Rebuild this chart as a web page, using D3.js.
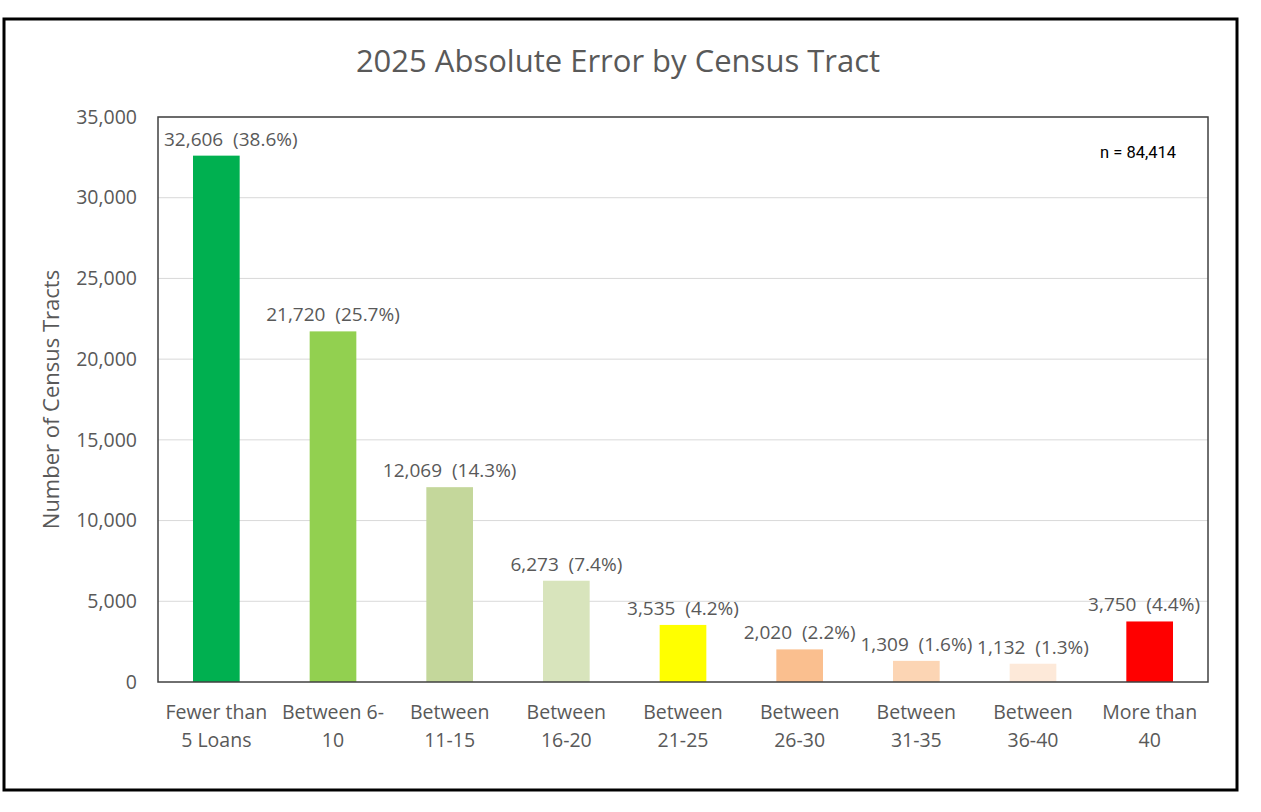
<!DOCTYPE html>
<html>
<head>
<meta charset="utf-8">
<script src="https://cdn.jsdelivr.net/npm/d3@7"></script>
<style>
  body { margin: 0; background: #fff; }
  svg { display: block; }
  text { font-family: "Open Sans", Lato, sans-serif; }
</style>
</head>
<body>
<svg id="chart" width="1261" height="812"></svg>
<script>
// chart data
const categories = [
  ['Fewer than', '5 Loans'],
  ['Between 6-', '10'],
  ['Between', '11-15'],
  ['Between', '16-20'],
  ['Between', '21-25'],
  ['Between', '26-30'],
  ['Between', '31-35'],
  ['Between', '36-40'],
  ['More than', '40']
];
const counts = [32606, 21720, 12069, 6273, 3535, 2020, 1309, 1132, 3750];
const percents = ['38.6%', '25.7%', '14.3%', '7.4%', '4.2%', '2.2%', '1.6%', '1.3%', '4.4%'];
const barColors = ['#00b050', '#92d050', '#c4d79b', '#d8e4bc', '#ffff00', '#fabf8f', '#fcd5b4', '#fde9d9', '#ff0000'];
const yTicks = [0, 5000, 10000, 15000, 20000, 25000, 30000, 35000];
const total = 84414;

const svg = d3.select('#chart');
const textColor = '#595959';

// outer frame
svg.append('rect')
  .attr('x', 4).attr('y', 19)
  .attr('width', 1233).attr('height', 771)
  .attr('fill', '#fff')
  .attr('stroke', '#000')
  .attr('stroke-width', 3);

const margin = { left: 158, top: 117, right: 1208, bottom: 682 };

const x = d3.scaleBand()
  .domain(d3.range(categories.length))
  .range([margin.left, margin.right])
  .paddingInner(0.6)
  .paddingOuter(0.3);

const y = d3.scaleLinear()
  .domain([0, 35000])
  .range([margin.bottom, margin.top]);

// gridlines
svg.append('g')
  .selectAll('line')
  .data(yTicks.filter(d => d > 0))
  .join('line')
  .attr('x1', margin.left).attr('x2', margin.right)
  .attr('y1', d => y(d)).attr('y2', d => y(d))
  .attr('stroke', '#d9d9d9')
  .attr('stroke-width', 1);

// y axis tick labels
const yAxis = d3.axisLeft(y)
  .tickValues(yTicks)
  .tickFormat(d3.format(','))
  .tickSize(0)
  .tickPadding(21);

svg.append('g')
  .attr('transform', `translate(${margin.left},0)`)
  .call(yAxis)
  .call(g => g.select('.domain').remove())
  .selectAll('text')
  .attr('fill', textColor)
  .style('font-size', '19.5px')
  .style('font-family', '"Open Sans", Lato, sans-serif');

// bars
svg.append('g')
  .selectAll('rect')
  .data(counts)
  .join('rect')
  .attr('x', (d, i) => x(i))
  .attr('y', d => y(d))
  .attr('width', x.bandwidth())
  .attr('height', d => y(0) - y(d))
  .attr('fill', (d, i) => barColors[i]);

// value labels, kept inside the plot area like Excel does
svg.append('g')
  .selectAll('text')
  .data(counts)
  .join('text')
  .attr('x', (d, i) => x(i) + x.bandwidth() / 2)
  .attr('y', d => y(d) - 10)
  .attr('text-anchor', 'middle')
  .attr('fill', textColor)
  .style('font-size', '19px')
  .text((d, i) => d3.format(',')(d) + '\u00a0 (' + percents[i] + ')')
  .each(function() {
    const b = this.getBBox();
    let shift = 0;
    if (b.x < margin.left + 6) shift = margin.left + 6 - b.x;
    if (b.x + b.width > margin.right - 8) shift = margin.right - 8 - (b.x + b.width);
    if (shift) this.setAttribute('x', +this.getAttribute('x') + shift);
  });

// plot area frame
svg.append('rect')
  .attr('x', margin.left).attr('y', margin.top)
  .attr('width', margin.right - margin.left)
  .attr('height', margin.bottom - margin.top)
  .attr('fill', 'none')
  .attr('stroke', '#404040')
  .attr('stroke-width', 1.5);

// x category labels
const xLabels = svg.append('g')
  .selectAll('text')
  .data(categories)
  .join('text')
  .attr('x', (d, i) => x(i) + x.bandwidth() / 2)
  .attr('y', 719)
  .attr('text-anchor', 'middle')
  .attr('fill', textColor)
  .style('font-size', '19.5px');

xLabels.selectAll('tspan')
  .data(d => d)
  .join('tspan')
  .attr('x', function() { return this.parentNode.getAttribute('x'); })
  .attr('dy', (d, j) => j === 0 ? 0 : 28)
  .text(d => d);

// title
svg.append('text')
  .attr('x', 618)
  .attr('y', 72)
  .attr('text-anchor', 'middle')
  .attr('fill', textColor)
  .style('font-size', '31px')
  .text('2025 Absolute Error by Census Tract');

// y axis title
svg.append('text')
  .attr('transform', `translate(59,${(margin.top + margin.bottom) / 2}) rotate(-90)`)
  .attr('text-anchor', 'middle')
  .attr('fill', textColor)
  .style('font-size', '22px')
  .text('Number of Census Tracts');

// sample size note
svg.append('text')
  .attr('x', 1176)
  .attr('y', 158)
  .attr('text-anchor', 'end')
  .attr('fill', '#000')
  .style('font-family', 'Roboto, sans-serif')
  .style('font-size', '16.5px')
  .text('n = ' + d3.format(',')(total));
</script>
</body>
</html>
